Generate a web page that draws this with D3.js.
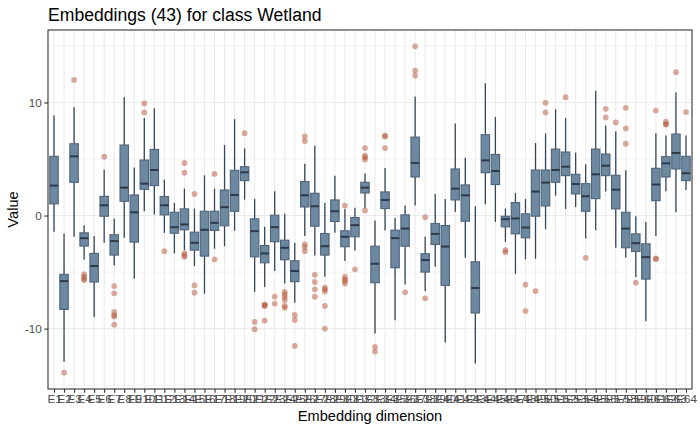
<!DOCTYPE html>
<html>
<head>
<meta charset="utf-8">
<script src="https://cdn.jsdelivr.net/npm/d3@7"></script>
<style>
  html, body { margin: 0; padding: 0; background: #ffffff; }
  svg { display: block; font-family: "Liberation Sans", Arial, sans-serif; }
</style>
</head>
<body>
<svg id="chart" width="700" height="432"></svg>
<script>
// ---------------- data ----------------
const categories = d3.range(1, 65).map(i => "E" + i);

const whiskerLow = [-1.44,-12.94,-1.88,-3.88,-8.97,-2.41,-4.41,-1.97,-5.59,0.38,
  0.09,-1.53,-3.35,-3.06,-4.47,-6.91,-2.94,-2.71,-1.35,1.41,
  -6.74,-6.32,-4.91,-6.0,-7.71,-1.82,-3.53,-5.41,-1.53,-4.03,
  -3.09,0.65,-10.44,-1.32,-9.26,-6.09,0.88,-6.68,-4.53,-11.24,
  0.32,-3.74,-13.09,1.0,-0.56,-2.32,-5.15,-3.88,-3.82,-1.21,
  1.76,0.59,0.76,-2.03,-1.29,2.12,-2.85,-3.74,-5.44,-9.35,
  -1.82,2.15,0.29,2.26];
const q1 = [1.03,-8.3,2.94,-2.7,-5.88,-0.06,-3.5,1.26,-2.35,2.32,
  2.65,0.06,-1.56,-1.26,-3.06,-3.59,-1.32,-0.91,0.38,3.09,
  -3.65,-4.18,-2.32,-3.91,-5.85,0.76,-0.94,-3.5,-0.53,-2.76,
  -1.88,2.0,-5.94,0.62,-4.62,-2.71,3.41,-5.0,-2.56,-6.18,
  1.38,-0.5,-8.62,3.79,2.74,-1.0,-1.62,-1.97,-0.06,0.85,
  2.94,3.53,1.91,0.38,1.5,3.53,0.59,-2.85,-3.18,-5.62,
  1.32,3.41,4.12,3.09];
const medians = [2.65,-5.8,5.24,-2.0,-4.47,0.91,-2.26,2.47,0.29,2.82,
  4.03,0.91,-1.03,-0.79,-2.41,-1.26,-0.65,0.74,1.82,3.82,
  -1.38,-3.35,-1.03,-2.85,-4.91,1.79,0.82,-2.71,0.38,-1.88,
  -0.85,2.47,-4.26,1.38,-2.0,-1.15,4.65,-3.94,-1.62,-2.74,
  2.38,1.79,-6.41,4.88,3.94,-0.32,-0.26,-1.06,2.12,2.91,
  4.03,4.32,2.79,1.71,3.65,4.41,2.29,-1.15,-2.44,-3.68,
  2.74,4.62,5.53,3.74];
const q3 = [5.24,-5.2,6.35,-1.53,-3.35,1.7,-1.7,6.24,1.82,4.91,
  5.85,1.68,0.29,0.59,-1.47,0.38,0.38,2.26,4.0,4.32,
  -0.29,-2.65,0.03,-2.18,-4.0,3.0,1.97,-1.59,1.38,-1.35,
  -0.18,2.94,-2.71,2.09,-1.29,0.06,6.94,-3.38,-0.71,-0.88,
  4.12,2.71,-4.09,7.15,5.41,-0.06,1.15,0.15,4.03,4.03,
  5.88,5.62,3.65,2.82,5.88,5.44,3.56,0.29,-1.62,-2.5,
  4.18,5.21,7.21,5.24];
const whiskerHigh = [8.85,-1.59,9.59,-0.85,-1.8,4.06,-0.29,10.47,4.26,8.62,
  9.5,3.18,1.12,2.38,0.62,3.56,2.38,6.24,8.53,5.94,
  1.47,-1.0,2.15,0.15,-2.41,4.59,6.18,1.12,3.53,0.59,
  0.68,3.71,-0.44,4.21,-0.21,0.88,10.53,-1.88,1.91,1.47,
  8.15,5.12,0.82,11.71,8.71,0.62,2.0,1.47,6.41,7.26,
  9.41,8.62,5.56,4.53,11.03,7.97,7.44,4.0,-0.06,-0.56,
  7.29,7.09,10.88,7.09];
const outliers = [
  [], [-13.9], [12.0], [-5.2,-5.4,-5.6,-5.7], [], [5.2],
  [-6.24,-6.88,-8.53,-8.82,-8.94,-9.65], [], [], [9.12,9.91],
  [], [-3.15], [], [4.65,3.79,-3.35,-3.53,-3.65], [1.91,-6.18,-6.82],
  [], [3.68,-3.88], [], [], [7.29],
  [-9.41,-10.06], [-7.85,-7.94,-8.0,-9.29], [-7.18,-7.79],
  [-6.76,-6.97,-7.2,-7.47,-8.0,-8.15], [-8.79,-9.24,-11.53],
  [7.0,6.59,-2.56,-2.79,-3.15], [-5.24,-5.88,-6.53,-7.18],
  [-6.38,-6.53,-6.71,-8.0,-10.0], [], [0.88,-5.41,-5.65,-5.79,-6.0],
  [-4.76], [5.97,5.29,5.15,4.94,0.45], [-11.62,-12.03], [7.06,7.0,5.97],
  [], [-6.79], [14.97,12.82,12.38], [-0.15,-7.32], [], [],
  [], [], [], [], [], [-3.06,-3.24], [], [-6.12,-8.44], [-6.68],
  [9.97,9.12], [], [10.47], [], [-3.74], [], [9.44,8.68], [8.24],
  [9.53,7.71,6.35], [-5.94], [], [9.29,-3.78,-3.86], [8.3,8.09,8.05],
  [12.68], [9.15]
];
const yTicks = [-10, 0, 10];
const yMinorTicks = [-15, -5, 5, 15];
const titleText = "Embeddings (43) for class Wetland";
const xTitle = "Embedding dimension";
const yTitle = "Value";

// ---------------- layout ----------------
const panel = { left: 48, right: 692, top: 30, bottom: 389 };
const svg = d3.select("#chart");

const boxes = categories.map((c, i) => ({
  cat: c, lo: whiskerLow[i], q1: q1[i], med: medians[i], q3: q3[i], hi: whiskerHigh[i], out: outliers[i]
}));

const allVals = boxes.flatMap(b => [b.lo, b.hi, ...b.out]);
const vmin = d3.min(allVals), vmax = d3.max(allVals);
const pad = (vmax - vmin) * 0.05;

const x = d3.scalePoint().domain(categories).range([panel.left, panel.right]).padding(0.6);
const y = d3.scaleLinear().domain([vmin - pad, vmax + pad]).range([panel.bottom, panel.top]);
const bw = x.step() * 0.84;

svg.append("rect").attr("x", panel.left).attr("y", panel.top)
  .attr("width", panel.right - panel.left).attr("height", panel.bottom - panel.top)
  .attr("fill", "#ffffff");

const grid = svg.append("g");
const [d0, d1] = y.domain();
grid.selectAll("line.minor").data(yMinorTicks.filter(t => t > d0 && t < d1)).join("line")
  .attr("x1", panel.left).attr("x2", panel.right)
  .attr("y1", d => y(d)).attr("y2", d => y(d))
  .attr("stroke", "#ebebeb").attr("stroke-width", 0.6);
grid.selectAll("line.majorY").data(yTicks).join("line")
  .attr("x1", panel.left).attr("x2", panel.right)
  .attr("y1", d => y(d)).attr("y2", d => y(d))
  .attr("stroke", "#ebebeb").attr("stroke-width", 1.1);
grid.selectAll("line.majorX").data(categories).join("line")
  .attr("x1", d => x(d)).attr("x2", d => x(d))
  .attr("y1", panel.top).attr("y2", panel.bottom)
  .attr("stroke", "#ebebeb").attr("stroke-width", 1.1);

const g = svg.append("g");
const bg = g.selectAll("g.box").data(boxes).join("g");
bg.append("line")
  .attr("x1", d => x(d.cat)).attr("x2", d => x(d.cat))
  .attr("y1", d => y(d.hi)).attr("y2", d => y(d.q3))
  .attr("stroke", "#33465a").attr("stroke-width", 1.3);
bg.append("line")
  .attr("x1", d => x(d.cat)).attr("x2", d => x(d.cat))
  .attr("y1", d => y(d.q1)).attr("y2", d => y(d.lo))
  .attr("stroke", "#33465a").attr("stroke-width", 1.3);
bg.selectAll("circle").data(d => d.out.map(v => ({ cat: d.cat, v }))).join("circle")
  .attr("cx", d => x(d.cat)).attr("cy", d => y(d.v)).attr("r", 2.9)
  .attr("fill", "#b5583a").attr("fill-opacity", 0.5);
bg.append("rect")
  .attr("x", d => x(d.cat) - bw / 2).attr("width", bw)
  .attr("y", d => y(d.q3)).attr("height", d => y(d.q1) - y(d.q3))
  .attr("fill", "#6d89a2").attr("stroke", "#4f6377").attr("stroke-width", 1.1);
bg.append("line")
  .attr("x1", d => x(d.cat) - bw / 2).attr("x2", d => x(d.cat) + bw / 2)
  .attr("y1", d => y(d.med)).attr("y2", d => y(d.med))
  .attr("stroke", "#2c3b4b").attr("stroke-width", 2);

svg.append("rect").attr("x", panel.left).attr("y", panel.top)
  .attr("width", panel.right - panel.left).attr("height", panel.bottom - panel.top)
  .attr("fill", "none").attr("stroke", "#333333").attr("stroke-width", 1.1);

const xAxis = svg.append("g").attr("transform", `translate(0,${panel.bottom})`)
  .call(d3.axisBottom(x).tickSize(3.7).tickPadding(2.2));
const yAxis = svg.append("g").attr("transform", `translate(${panel.left},0)`)
  .call(d3.axisLeft(y).tickValues(yTicks).tickSize(3.7).tickPadding(2.5).tickFormat(d3.format("d")));
[xAxis, yAxis].forEach(a => {
  a.select(".domain").remove();
  a.selectAll(".tick line").attr("stroke", "#333333").attr("stroke-width", 1.1);
  a.selectAll(".tick text").attr("fill", "#4d4d4d").style("font-size", "11.7px")
    .style("font-family", "'Liberation Sans', Arial, sans-serif");
});
yAxis.selectAll(".tick text").text(d => d < 0 ? "-" + Math.abs(d) : d);

svg.append("text").attr("x", panel.left).attr("y", 20.5)
  .attr("fill", "#000").style("font-size", "17.6px").text(titleText);
svg.append("text").attr("x", (panel.left + panel.right) / 2).attr("y", 421)
  .attr("text-anchor", "middle").attr("fill", "#000").style("font-size", "14.6px").text(xTitle);
svg.append("text").attr("transform", `translate(18,${(panel.top + panel.bottom) / 2}) rotate(-90)`)
  .attr("text-anchor", "middle").attr("fill", "#000").style("font-size", "14.6px").text(yTitle);
</script>
</body>
</html>
